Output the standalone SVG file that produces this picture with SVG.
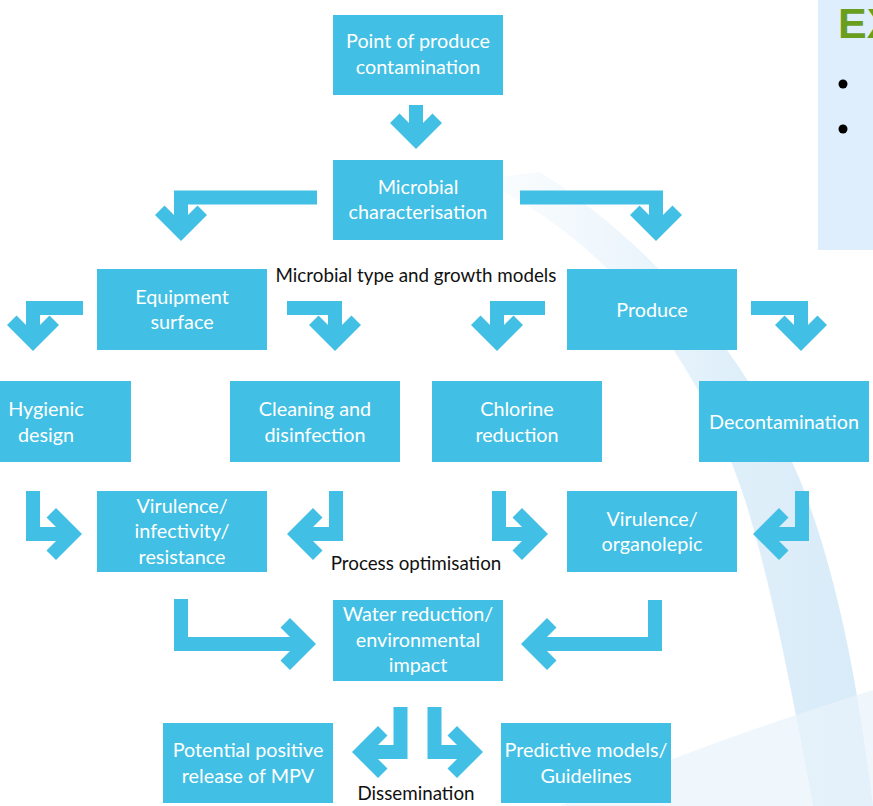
<svg xmlns="http://www.w3.org/2000/svg" width="873" height="806" viewBox="0 0 873 806">
<style>
.box{fill:#42BFE4}
.bt{fill:#fff;font-family:Lato,"Open Sans",sans-serif;font-size:19.8px;text-anchor:middle}
.lb{fill:#111;font-family:Lato,"Open Sans",sans-serif;font-size:18.8px;text-anchor:middle}
.bar{fill:none;stroke:#42BFE4;stroke-width:14;stroke-linejoin:miter;stroke-linecap:butt}
.hd{fill:#42BFE4}
</style>
<defs>
<path id="hd" d="M0,0 L-26,-26 L-16.5,-35.5 L0,-19 L16.5,-35.5 L26,-26Z"/>
<linearGradient id="sw" x1="0" y1="0" x2="1" y2="0">
<stop offset="0" stop-color="#E4F1FB" stop-opacity="0.2"/>
<stop offset="0.6" stop-color="#D3E9F8"/>
<stop offset="1" stop-color="#C6E2F5"/>
</linearGradient>
</defs>
<rect width="873" height="806" fill="#fff"/>
<g id="background">
<path d="M480,180 C610,240 700,360 745,500 C770,580 790,680 813,806 L873,806 C860,700 840,580 800,480 C750,360 660,250 540,172 Z" fill="url(#sw)" opacity="0.7"/>
<path d="M560,806 C640,770 730,735 873,690 L873,806 Z" fill="#EAF3FB" opacity="0.7"/>
</g>
<g id="ex-panel">
<rect x="818" y="0" width="60" height="250" fill="#DFEEFC"/>
<text x="838" y="38" font-family="Liberation Sans,Arial,sans-serif" font-weight="bold" font-size="43" fill="#6A9E1F">EX</text>
<circle cx="843" cy="84" r="4.5" fill="#000"/>
<circle cx="843" cy="129" r="4.5" fill="#000"/>
</g>
<g id="connectors">
<path class="bar" d="M416,105 V132"/><use href="#hd" class="hd" transform="translate(416,149)"/>
<path class="bar" d="M317,197.5 H181 V224"/><use href="#hd" class="hd" transform="translate(181,241)"/>
<path class="bar" d="M520,197.5 H656 V224"/><use href="#hd" class="hd" transform="translate(656,241)"/>
<path class="bar" d="M83,308 H33 V334"/><use href="#hd" class="hd" transform="translate(33,351)"/>
<path class="bar" d="M287,308 H335 V334"/><use href="#hd" class="hd" transform="translate(335,351)"/>
<path class="bar" d="M545,308 H497 V334"/><use href="#hd" class="hd" transform="translate(497,351)"/>
<path class="bar" d="M751,308 H801 V334"/><use href="#hd" class="hd" transform="translate(801,351)"/>
<path class="bar" d="M33,491 V534 H65"/><use href="#hd" class="hd" transform="translate(82,534) rotate(-90)"/>
<path class="bar" d="M499,491 V534 H531"/><use href="#hd" class="hd" transform="translate(548,534) rotate(-90)"/>
<path class="bar" d="M336,491 V534 H304"/><use href="#hd" class="hd" transform="translate(287,534) rotate(90)"/>
<path class="bar" d="M802,491 V534 H770"/><use href="#hd" class="hd" transform="translate(753,534) rotate(90)"/>
<path class="bar" d="M181,599 V644 H299"/><use href="#hd" class="hd" transform="translate(316,644) rotate(-90)"/>
<path class="bar" d="M655,600 V644 H538"/><use href="#hd" class="hd" transform="translate(521,644) rotate(90)"/>
<path class="bar" d="M400.5,707 V752 H369"/><use href="#hd" class="hd" transform="translate(352,752) rotate(90)"/>
<path class="bar" d="M434.5,707 V752 H466"/><use href="#hd" class="hd" transform="translate(483,752) rotate(-90)"/>
</g>
<g id="n-point"><rect class="box" x="333" y="15" width="170" height="80"/><text class="bt" x="418" y="48">Point of produce</text><text class="bt" x="418" y="74">contamination</text></g>
<g id="n-micro"><rect class="box" x="333" y="160" width="170" height="80"/><text class="bt" x="418" y="194">Microbial</text><text class="bt" x="418" y="219">characterisation</text></g>
<g id="n-equip"><rect class="box" x="97" y="269" width="170" height="81"/><text class="bt" x="182" y="304">Equipment</text><text class="bt" x="182" y="329">surface</text></g>
<g id="n-produce"><rect class="box" x="567" y="269" width="170" height="81"/><text class="bt" x="652" y="317">Produce</text></g>
<g id="n-hygienic"><rect class="box" x="-39" y="381" width="170" height="81"/><text class="bt" x="46" y="416">Hygienic</text><text class="bt" x="46" y="442">design</text></g>
<g id="n-cleaning"><rect class="box" x="230" y="381" width="170" height="81"/><text class="bt" x="315" y="416">Cleaning and</text><text class="bt" x="315" y="442">disinfection</text></g>
<g id="n-chlorine"><rect class="box" x="432" y="381" width="170" height="81"/><text class="bt" x="517" y="416">Chlorine</text><text class="bt" x="517" y="442">reduction</text></g>
<g id="n-decon"><rect class="box" x="699" y="381" width="170" height="81"/><text class="bt" x="784" y="429">Decontamination</text></g>
<g id="n-vir1"><rect class="box" x="97" y="491" width="170" height="81"/><text class="bt" x="182" y="513">Virulence/</text><text class="bt" x="182" y="538">infectivity/</text><text class="bt" x="182" y="564">resistance</text></g>
<g id="n-vir2"><rect class="box" x="567" y="491" width="170" height="81"/><text class="bt" x="652" y="526">Virulence/</text><text class="bt" x="652" y="551">organolepic</text></g>
<g id="n-water"><rect class="box" x="333" y="600" width="170" height="81"/><text class="bt" x="418" y="621">Water reduction/</text><text class="bt" x="418" y="647">environmental</text><text class="bt" x="418" y="672">impact</text></g>
<g id="n-potential"><rect class="box" x="163" y="723" width="170" height="80"/><text class="bt" x="248" y="757">Potential positive</text><text class="bt" x="248" y="783">release of MPV</text></g>
<g id="n-predictive"><rect class="box" x="501" y="723" width="170" height="80"/><text class="bt" x="586" y="757">Predictive models/</text><text class="bt" x="586" y="783">Guidelines</text></g>
<g id="labels">
<text class="lb" x="416" y="282">Microbial type and growth models</text>
<text class="lb" x="416" y="570">Process optimisation</text>
<text class="lb" x="416" y="800">Dissemination</text>
</g>
</svg>
